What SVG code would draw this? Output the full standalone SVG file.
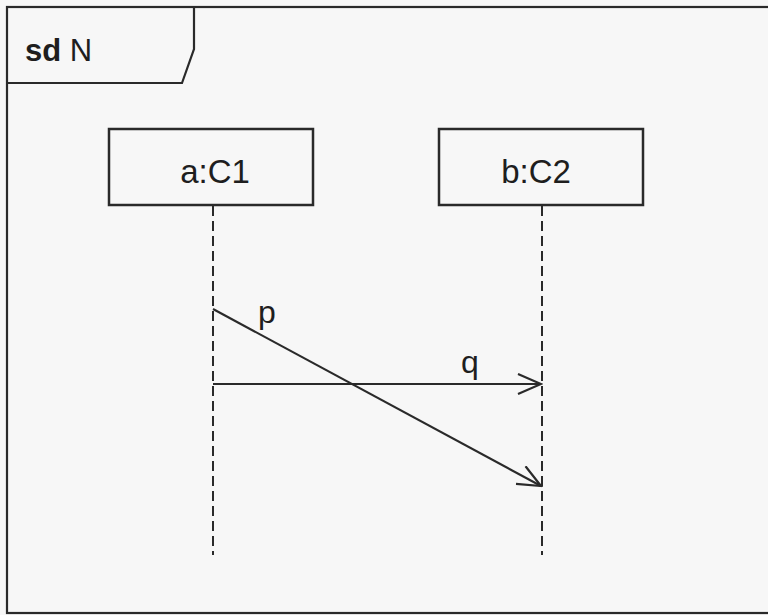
<svg xmlns="http://www.w3.org/2000/svg" width="768" height="615" viewBox="0 0 768 615">
<defs>
<style>
.ln{stroke:#2a2a2a;stroke-width:2.2;fill:none}
.box{stroke:#2a2a2a;stroke-width:2.5;fill:#f7f7f7}
.life{stroke:#2a2a2a;stroke-width:2;stroke-dasharray:10,5;fill:none}
.t{font-family:"Liberation Sans",Arial,sans-serif;fill:#1e1e1e}
</style>
<marker id="open" markerWidth="26" markerHeight="24" refX="24" refY="11" orient="auto" markerUnits="userSpaceOnUse">
<path d="M1,1 L24,11 L1,21" fill="none" stroke="#2a2a2a" stroke-width="2.2"/>
</marker>
</defs>
<rect x="0" y="0" width="768" height="615" fill="#f7f7f7"/>
<g id="frame">
<rect x="7" y="7" width="770" height="606" class="ln" stroke-width="2.5"/>
<path d="M7,83 L182,83 L194,49 L194,7" class="ln"/>
<text x="25" y="61" class="t" font-size="31"><tspan font-weight="bold">sd</tspan> N</text>
</g>
<g id="a">
<rect x="109" y="129" width="204" height="76" class="box"/>
<text x="215" y="183" class="t" font-size="33" text-anchor="middle">a:C1</text>
</g>
<g id="b">
<rect x="439" y="129" width="204" height="76" class="box"/>
<text x="536" y="183" class="t" font-size="33" text-anchor="middle">b:C2</text>
</g>
<g id="connectors">
<line x1="213" y1="206" x2="213" y2="555" class="life"/>
<line x1="542" y1="206" x2="542" y2="555" class="life"/>
<line x1="213" y1="309" x2="541" y2="486" class="ln" marker-end="url(#open)"/>
<line x1="213" y1="384" x2="541" y2="384" class="ln" marker-end="url(#open)"/>
<text x="258" y="323" class="t" font-size="32">p</text>
<text x="461" y="373" class="t" font-size="32">q</text>
</g>
</svg>
